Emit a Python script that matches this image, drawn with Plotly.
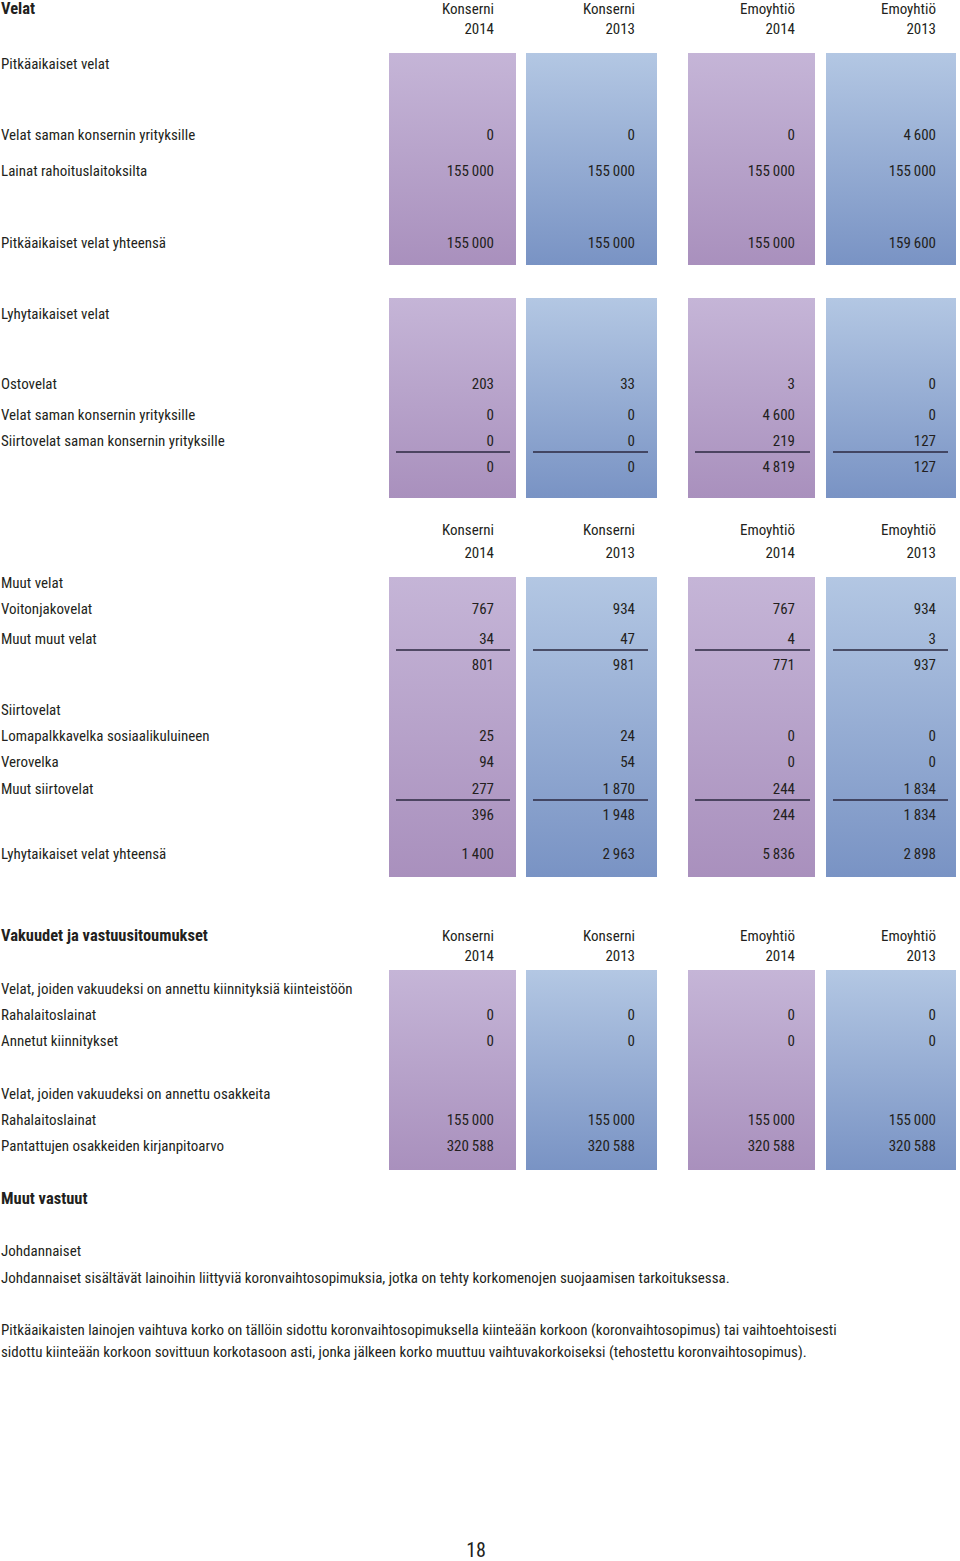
import plotly.graph_objects as go

# ---------------- data ----------------
col_entities = ["Konserni", "Konserni", "Emoyhtiö", "Emoyhtiö"]
col_years = ["2014", "2013", "2014", "2013"]

long_labels = ["Velat saman konsernin yrityksille", "Lainat rahoituslaitoksilta"]
long_k2014 = [0, 155000]
long_k2013 = [0, 155000]
long_e2014 = [0, 155000]
long_e2013 = [4600, 155000]
long_total = [155000, 155000, 155000, 159600]

short_labels = ["Ostovelat", "Velat saman konsernin yrityksille", "Siirtovelat saman konsernin yrityksille"]
short_k2014 = [203, 0, 0]
short_k2013 = [33, 0, 0]
short_e2014 = [3, 4600, 219]
short_e2013 = [0, 0, 127]
short_sum = [0, 0, 4819, 127]

muut_labels = ["Voitonjakovelat", "Muut muut velat"]
muut_k2014 = [767, 34]
muut_k2013 = [934, 47]
muut_e2014 = [767, 4]
muut_e2013 = [934, 3]
muut_sum = [801, 981, 771, 937]

siirto_labels = ["Lomapalkkavelka sosiaalikuluineen", "Verovelka", "Muut siirtovelat"]
siirto_k2014 = [25, 94, 277]
siirto_k2013 = [24, 54, 1870]
siirto_e2014 = [0, 0, 244]
siirto_e2013 = [0, 0, 1834]
siirto_sum = [396, 1948, 244, 1834]

short_total = [1400, 2963, 5836, 2898]

kiin_labels = ["Rahalaitoslainat", "Annetut kiinnitykset"]
kiin_values = [[0, 0], [0, 0], [0, 0], [0, 0]]
osak_labels = ["Rahalaitoslainat", "Pantattujen osakkeiden kirjanpitoarvo"]
osak_values = [[155000, 320588], [155000, 320588], [155000, 320588], [155000, 320588]]

# ---------------- layout constants ----------------
W, H = 960, 1561
FONT = "Roboto Condensed, Liberation Sans Narrow, DejaVu Sans Condensed, sans-serif"
FS = 15
FSB = 16.5
TXT = "#231f20"
LX = 1
DY = 2  # vertical text offset
col_left = [389, 526, 688, 826]
col_right = [516, 657, 815, 956]
num_x = [494, 635, 795, 936]
line_x = [(396, 510), (533, 648), (695, 810), (833, 948)]
box_y = [(53, 265), (298, 498), (577, 877), (970, 1170)]
grad = [
    [[0, "#c5b5d7"], [1, "#a990bd"]],
    [[0, "#b3c7e3"], [1, "#7993c4"]],
    [[0, "#c5b5d7"], [1, "#a990bd"]],
    [[0, "#b3c7e3"], [1, "#7993c4"]],
]


def fmt(v):
    return f"{v:,}".replace(",", "\u2009")


fig = go.Figure()

# gradient column boxes
for (y0, y1) in box_y:
    for c in range(4):
        x0, x1 = col_left[c], col_right[c]
        fig.add_trace(go.Scatter(
            x=[x0, x1, x1, x0, x0], y=[y0, y0, y1, y1, y0],
            mode="lines", line=dict(width=0), fill="toself",
            fillgradient=dict(type="vertical", colorscale=grad[c], start=y0, stop=y1),
            hoverinfo="skip", showlegend=False))


def labels(ys, texts, bold=False):
    fig.add_trace(go.Scatter(
        x=[LX] * len(ys), y=[y + DY for y in ys], mode="text", text=texts,
        textposition="middle right", cliponaxis=False,
        textfont=dict(family=FONT, size=FSB if bold else FS, color=TXT,
                      weight="bold" if bold else "normal"),
        hoverinfo="skip", showlegend=False))


def values(ys, cols):
    for c in range(4):
        fig.add_trace(go.Scatter(
            x=[num_x[c]] * len(ys), y=[y + DY for y in ys], mode="text",
            text=[fmt(v) for v in cols[c]],
            textposition="middle left", cliponaxis=False,
            textfont=dict(family=FONT, size=FS, color=TXT),
            hoverinfo="skip", showlegend=False))


def headers(y1, y2):
    for yy, arr in zip((y1, y2), (col_entities, col_years)):
        fig.add_trace(go.Scatter(
            x=num_x, y=[yy + DY] * 4, mode="text", text=arr,
            textposition="middle left", cliponaxis=False,
            textfont=dict(family=FONT, size=FS, color=TXT),
            hoverinfo="skip", showlegend=False))


def underline(y):
    for (a, b) in line_x:
        fig.add_shape(type="line", x0=a, x1=b, y0=y, y1=y,
                      line=dict(color="#2b2940", width=1.3))


# Section: Velat
labels([8], ["Velat"], bold=True)
headers(8, 28)
labels([63], ["Pitkäaikaiset velat"])
ys = [134, 170]
labels(ys, long_labels)
values(ys, [long_k2014, long_k2013, long_e2014, long_e2013])
labels([242], ["Pitkäaikaiset velat yhteensä"])
values([242], [[v] for v in long_total])

labels([313], ["Lyhytaikaiset velat"])
ys = [383, 414, 440]
labels(ys, short_labels)
values(ys, [short_k2014, short_k2013, short_e2014, short_e2013])
underline(452)
values([466], [[v] for v in short_sum])

headers(529, 552)
labels([582], ["Muut velat"])
ys = [608, 638]
labels(ys, muut_labels)
values(ys, [muut_k2014, muut_k2013, muut_e2014, muut_e2013])
underline(650)
values([664], [[v] for v in muut_sum])

labels([709], ["Siirtovelat"])
ys = [735, 761, 788]
labels(ys, siirto_labels)
values(ys, [siirto_k2014, siirto_k2013, siirto_e2014, siirto_e2013])
underline(800)
values([814], [[v] for v in siirto_sum])

labels([853], ["Lyhytaikaiset velat yhteensä"])
values([853], [[v] for v in short_total])

# Section: Vakuudet
labels([935], ["Vakuudet ja vastuusitoumukset"], bold=True)
headers(935, 955)
labels([988], ["Velat, joiden vakuudeksi on annettu kiinnityksiä kiinteistöön"])
ys = [1014, 1040]
labels(ys, kiin_labels)
values(ys, kiin_values)
labels([1093], ["Velat, joiden vakuudeksi on annettu osakkeita"])
ys = [1119, 1145]
labels(ys, osak_labels)
values(ys, osak_values)

labels([1198], ["Muut vastuut"], bold=True)
labels([1250, 1277], [
    "Johdannaiset",
    "Johdannaiset sisältävät lainoihin liittyviä koronvaihtosopimuksia, jotka on tehty korkomenojen suojaamisen tarkoituksessa.",
])
labels([1329, 1351], [
    "Pitkäaikaisten lainojen vaihtuva korko on tällöin sidottu koronvaihtosopimuksella kiinteään korkoon (koronvaihtosopimus) tai vaihtoehtoisesti",
    "sidottu kiinteään korkoon sovittuun korkotasoon asti, jonka jälkeen korko muuttuu vaihtuvakorkoiseksi (tehostettu koronvaihtosopimus).",
])

fig.add_trace(go.Scatter(
    x=[476], y=[1550 + DY], mode="text", text=["18"], textposition="middle center", cliponaxis=False,
    textfont=dict(family=FONT, size=20, color=TXT), hoverinfo="skip", showlegend=False))

fig.update_layout(
    width=W, height=H, margin=dict(l=0, r=0, t=0, b=0),
    paper_bgcolor="white", plot_bgcolor="white", showlegend=False,
    xaxis=dict(range=[0, W], visible=False, fixedrange=True),
    yaxis=dict(range=[H, 0], visible=False, fixedrange=True),
)

fig.write_html("out.html", config={"displayModeBar": False},
               post_script="document.body.style.margin='0';")
